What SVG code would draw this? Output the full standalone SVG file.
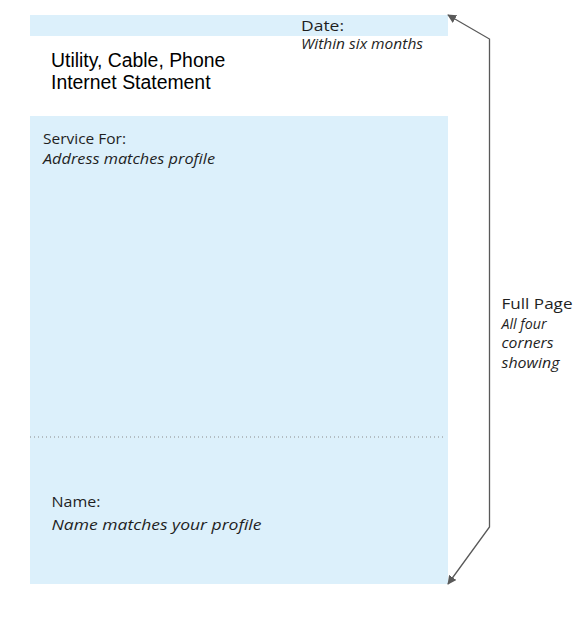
<svg xmlns="http://www.w3.org/2000/svg" width="585" height="620" viewBox="0 0 585 620">
<defs>
<style>
.box{fill:#dcf0fb;}
.lbl{font-family:"Open Sans","DejaVu Sans",sans-serif;font-size:14.5px;fill:#1f1f1f;}
.it{font-style:italic;}
.title{font-family:"Liberation Sans",Arial,sans-serif;font-size:19.4px;fill:#000;}
.conn{fill:none;stroke:#595959;stroke-width:1.3;}
</style>
<marker id="ah" viewBox="0 0 10 10" refX="9" refY="5" markerWidth="9" markerHeight="9" markerUnits="userSpaceOnUse" orient="auto-start-reverse">
<path d="M0,0 L10,5 L0,10 z" fill="#595959"/>
</marker>
</defs>
<rect width="585" height="620" fill="#fff"/>
<g id="date-band">
<rect class="box" x="30" y="15" width="418" height="21"/>
<text class="lbl" x="301" y="30.7" textLength="43" lengthAdjust="spacingAndGlyphs">Date:</text>
<text class="lbl it" x="301" y="49" textLength="122" lengthAdjust="spacingAndGlyphs">Within six months</text>
</g>
<g id="title">
<text class="title" x="51" y="66.7">Utility, Cable, Phone</text>
<text class="title" x="51" y="88.5">Internet Statement</text>
</g>
<g id="service">
<rect class="box" x="30" y="116" width="418" height="321"/>
<text class="lbl" x="43" y="144" textLength="83" lengthAdjust="spacingAndGlyphs">Service For:</text>
<text class="lbl it" x="43" y="163.5" textLength="172" lengthAdjust="spacingAndGlyphs">Address matches profile</text>
</g>
<g id="name">
<rect class="box" x="30" y="437" width="418" height="147"/>
<text class="lbl" x="51.5" y="507.3" textLength="49" lengthAdjust="spacingAndGlyphs">Name:</text>
<text class="lbl it" x="51.5" y="530" textLength="210" lengthAdjust="spacingAndGlyphs">Name matches your profile</text>
</g>
<g id="full-page-label">
<text class="lbl" x="501.5" y="308.5" textLength="71" lengthAdjust="spacingAndGlyphs">Full Page</text>
<text class="lbl it" x="501.5" y="328.5" textLength="45" lengthAdjust="spacingAndGlyphs">All four</text>
<text class="lbl it" x="501.5" y="348" textLength="52" lengthAdjust="spacingAndGlyphs">corners</text>
<text class="lbl it" x="501.5" y="367.5" textLength="58" lengthAdjust="spacingAndGlyphs">showing</text>
</g>
<g id="connectors">
<line x1="30" y1="437" x2="446" y2="437" stroke="#8a8a8a" stroke-width="1" stroke-dasharray="1,3"/>
<polyline class="conn" points="448,15 489.5,39 489.5,527 448,584" marker-start="url(#ah)" marker-end="url(#ah)"/>
</g>
</svg>
